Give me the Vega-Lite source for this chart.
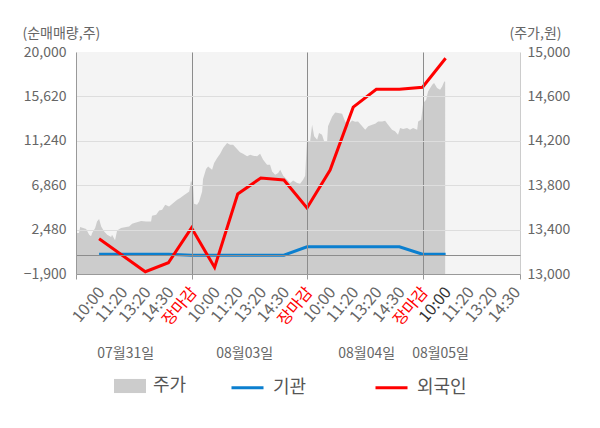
{
  "$schema": "https://vega.github.io/schema/vega-lite/v6.json",
  "width": 444,
  "height": 222,
  "autosize": {"type": "none"},
  "padding": {"left": 76, "top": 52, "right": 80, "bottom": 154},
  "background": "#ffffff",
  "config": {
    "font": "Noto Sans CJK KR",
    "view": {"fill": "#f4f4f4", "stroke": null},
    "axis": {"labelFont": "Noto Sans CJK KR", "titleFont": "Noto Sans CJK KR", "labelFontSize": 14, "titleColor": "#666666", "titleFontWeight": "normal", "titleFontSize": 14},
    "legend": {"labelFont": "Noto Sans CJK KR", "labelFontSize": 18, "labelColor": "#555555", "padding": 0}
  },
  "datasets": {
    "price": [
      {"t": -1.0, "price": 13369}, {"t": -0.87, "price": 13369}, {"t": -0.82, "price": 13423}, {"t": -0.69, "price": 13414},
      {"t": -0.56, "price": 13405}, {"t": -0.43, "price": 13354}, {"t": -0.35, "price": 13339}, {"t": -0.3, "price": 13369},
      {"t": -0.17, "price": 13414}, {"t": -0.09, "price": 13474}, {"t": 0.0, "price": 13496}, {"t": 0.09, "price": 13429},
      {"t": 0.22, "price": 13384}, {"t": 0.35, "price": 13354}, {"t": 0.52, "price": 13333}, {"t": 0.56, "price": 13354},
      {"t": 0.69, "price": 13303}, {"t": 0.78, "price": 13393}, {"t": 0.95, "price": 13414}, {"t": 1.17, "price": 13423},
      {"t": 1.3, "price": 13429}, {"t": 1.43, "price": 13453}, {"t": 1.6, "price": 13465}, {"t": 1.82, "price": 13478},
      {"t": 2.03, "price": 13474}, {"t": 2.25, "price": 13474}, {"t": 2.29, "price": 13525}, {"t": 2.47, "price": 13534},
      {"t": 2.6, "price": 13573}, {"t": 2.73, "price": 13579}, {"t": 2.86, "price": 13624}, {"t": 3.03, "price": 13609},
      {"t": 3.16, "price": 13631}, {"t": 3.38, "price": 13669}, {"t": 3.51, "price": 13685}, {"t": 3.64, "price": 13705},
      {"t": 3.81, "price": 13730}, {"t": 3.9, "price": 13744}, {"t": 3.98, "price": 13843},
      {"t": 4.07, "price": 13796}, {"t": 4.11, "price": 13633}, {"t": 4.24, "price": 13624}, {"t": 4.33, "price": 13654},
      {"t": 4.46, "price": 13744}, {"t": 4.5, "price": 13856}, {"t": 4.63, "price": 13946}, {"t": 4.72, "price": 13969},
      {"t": 4.89, "price": 13940}, {"t": 4.98, "price": 14000}, {"t": 5.11, "price": 14045}, {"t": 5.24, "price": 14084},
      {"t": 5.37, "price": 14135}, {"t": 5.54, "price": 14180}, {"t": 5.67, "price": 14165}, {"t": 5.8, "price": 14165},
      {"t": 5.97, "price": 14126}, {"t": 6.1, "price": 14096}, {"t": 6.23, "price": 14084}, {"t": 6.41, "price": 14060},
      {"t": 6.54, "price": 14075}, {"t": 6.67, "price": 14066}, {"t": 6.84, "price": 14060}, {"t": 6.97, "price": 14084},
      {"t": 7.1, "price": 14030}, {"t": 7.27, "price": 13985}, {"t": 7.4, "price": 13985}, {"t": 7.49, "price": 13924},
      {"t": 7.62, "price": 13895}, {"t": 7.75, "price": 13910}, {"t": 7.84, "price": 13940}, {"t": 7.97, "price": 13886},
      {"t": 8.14, "price": 13850}, {"t": 8.27, "price": 13820}, {"t": 8.4, "price": 13843}, {"t": 8.57, "price": 13820},
      {"t": 8.7, "price": 13814}, {"t": 8.83, "price": 13850}, {"t": 8.92, "price": 13886},
      {"t": 9.0, "price": 14210}, {"t": 9.13, "price": 14186}, {"t": 9.22, "price": 14345}, {"t": 9.31, "price": 14240},
      {"t": 9.44, "price": 14210}, {"t": 9.52, "price": 14270}, {"t": 9.65, "price": 14255}, {"t": 9.74, "price": 14195},
      {"t": 9.87, "price": 14195}, {"t": 9.91, "price": 14330}, {"t": 10.09, "price": 14420}, {"t": 10.22, "price": 14456},
      {"t": 10.35, "price": 14450}, {"t": 10.52, "price": 14444}, {"t": 10.65, "price": 14375}, {"t": 10.78, "price": 14345},
      {"t": 10.95, "price": 14384}, {"t": 11.08, "price": 14372}, {"t": 11.21, "price": 14375}, {"t": 11.39, "price": 14330},
      {"t": 11.52, "price": 14300}, {"t": 11.65, "price": 14330}, {"t": 11.82, "price": 14345}, {"t": 11.95, "price": 14354},
      {"t": 12.08, "price": 14375}, {"t": 12.25, "price": 14375}, {"t": 12.38, "price": 14381}, {"t": 12.51, "price": 14345},
      {"t": 12.68, "price": 14300}, {"t": 12.81, "price": 14285}, {"t": 12.94, "price": 14255}, {"t": 13.03, "price": 14315},
      {"t": 13.16, "price": 14306}, {"t": 13.33, "price": 14315}, {"t": 13.46, "price": 14300}, {"t": 13.59, "price": 14315},
      {"t": 13.77, "price": 14300}, {"t": 13.81, "price": 14375}, {"t": 13.94, "price": 14390},
      {"t": 14.03, "price": 14541}, {"t": 14.16, "price": 14570}, {"t": 14.24, "price": 14645}, {"t": 14.42, "price": 14706},
      {"t": 14.5, "price": 14721}, {"t": 14.63, "price": 14676}, {"t": 14.76, "price": 14660}, {"t": 14.85, "price": 14690},
      {"t": 14.94, "price": 14735}, {"t": 14.98, "price": 14732}
    ],
    "flow": [
      {"t": 0, "series": "기관", "value": 60}, {"t": 1, "series": "기관", "value": 60},
      {"t": 2, "series": "기관", "value": 60}, {"t": 3, "series": "기관", "value": 60},
      {"t": 4, "series": "기관", "value": -40}, {"t": 5, "series": "기관", "value": -40},
      {"t": 6, "series": "기관", "value": -40}, {"t": 7, "series": "기관", "value": -40},
      {"t": 8, "series": "기관", "value": -40}, {"t": 9, "series": "기관", "value": 780},
      {"t": 10, "series": "기관", "value": 780}, {"t": 11, "series": "기관", "value": 780},
      {"t": 12, "series": "기관", "value": 780}, {"t": 13, "series": "기관", "value": 780},
      {"t": 14, "series": "기관", "value": 60}, {"t": 15, "series": "기관", "value": 60},
      {"t": 0, "series": "외국인", "value": 1570}, {"t": 1, "series": "외국인", "value": -50},
      {"t": 2, "series": "외국인", "value": -1677}, {"t": 3, "series": "외국인", "value": -792},
      {"t": 4, "series": "외국인", "value": 2652}, {"t": 5, "series": "외국인", "value": -1250},
      {"t": 6, "series": "외국인", "value": 5998}, {"t": 7, "series": "외국인", "value": 7572},
      {"t": 8, "series": "외국인", "value": 7375}, {"t": 9, "series": "외국인", "value": 4620},
      {"t": 10, "series": "외국인", "value": 8360}, {"t": 11, "series": "외국인", "value": 14558},
      {"t": 12, "series": "외국인", "value": 16330}, {"t": 13, "series": "외국인", "value": 16330},
      {"t": 14, "series": "외국인", "value": 16527}, {"t": 15, "series": "외국인", "value": 19380}
    ]
  },
  "layer": [
    {
      "data": {"name": "price"},
      "mark": {"type": "area", "color": "#cccccc"},
      "encoding": {
        "x": {
          "field": "t", "type": "quantitative",
          "scale": {"domain": [-1, 18.22], "nice": false, "zero": false},
          "axis": {
            "orient": "bottom", "title": null, "zindex": 1,
            "values": [-1, 0, 1, 2, 3, 4, 5, 6, 7, 8, 9, 10, 11, 12, 13, 14, 15, 16, 17, 18, 18.22],
            "labelExpr": "(datum.value < 0 || datum.value > 18.1) ? '' : ['10:00','11:20','13:20','14:30','장마감'][datum.value % 5]",
            "labelAngle": -50, "labelAlign": "right", "labelBaseline": "middle", "labelFontSize": 16,
            "labelPadding": 10, "labelOffset": 2, "labelOverlap": false, "labelFlush": false, "labelBound": false,
            "labelColor": {"condition": [{"test": "datum.value % 5 == 4", "value": "#ff0000"}, {"test": "datum.value == 15", "value": "#333333"}], "value": "#666666"},
            "domainColor": "#999999", "tickColor": "#999999", "tickSize": 5,
            "tickOpacity": {"condition": {"test": "datum.value < 0 || datum.value > 18.1 || datum.value % 5 == 4", "value": 1}, "value": 0},
            "grid": true, "gridColor": "#8c8c8c",
            "gridOpacity": {"condition": {"test": "datum.value % 5 == 4", "value": 1}, "value": 0}
          }
        },
        "y": {
          "field": "price", "type": "quantitative",
          "scale": {"domain": [13000, 15000], "nice": false, "zero": false},
          "axis": {
            "orient": "right", "title": "(주가,원)", "titleAngle": 0, "titleAlign": "left", "titleBaseline": "middle",
            "titleX": -11, "titleY": -19,
            "values": [13000, 13400, 13800, 14200, 14600, 15000],
            "labelExpr": "format(datum.value, ',')", "labelColor": "#666666",
            "grid": false, "ticks": false, "labelPadding": 7, "domainColor": "#cccccc"
          }
        },
        "y2": {"datum": 13000},
        "fill": {
          "datum": "주가",
          "scale": {"domain": ["주가"], "range": ["#cccccc"]},
          "legend": {"orient": "none", "legendX": 38, "legendY": 318, "title": null, "symbolType": "M-1,-0.44H1V0.44H-1Z", "symbolSize": 1024, "labelOffset": 7, "symbolStrokeWidth": 0}
        }
      }
    },
    {
      "data": {"name": "flow"},
      "mark": {"type": "line", "strokeWidth": 3},
      "encoding": {
        "x": {
          "field": "t", "type": "quantitative",
          "axis": {
            "orient": "bottom", "title": null,
            "values": [1.13, 6.28, 11.56, 14.76],
            "labelExpr": "datum.value < 3 ? '07월31일' : (datum.value < 9 ? '08월03일' : (datum.value < 13 ? '08월04일' : '08월05일'))",
            "ticks": false, "domain": false, "grid": false, "labelColor": "#666666",
            "labelAngle": 0, "labelAlign": "center", "labelBaseline": "middle",
            "labelPadding": 79, "labelFlush": false, "labelOverlap": false, "labelBound": false
          }
        },
        "y": {
          "field": "value", "type": "quantitative",
          "scale": {"domain": [-1900, 20000], "nice": false, "zero": false},
          "axis": {
            "orient": "left", "title": "(순매매량,주)", "titleAngle": 0, "titleAlign": "left", "titleBaseline": "middle",
            "titleX": -54, "titleY": -19, "zindex": 1,
            "values": [-1900, 0, 2480, 6860, 11240, 15620, 20000],
            "labelExpr": "datum.value == 0 ? '' : format(datum.value, ',')", "labelColor": "#666666",
            "ticks": false, "labelPadding": 10, "domainColor": "#999999",
            "grid": true,
            "gridColor": {"condition": {"test": "datum.value == 0", "value": "#8c8c8c"}, "value": "#dddddd"},
            "gridOpacity": {"condition": {"test": "datum.value == 20000", "value": 0}, "value": 1}
          }
        },
        "stroke": {
          "field": "series", "type": "nominal",
          "scale": {"domain": ["기관", "외국인"], "range": ["#0b7fcf", "#ff0000"]},
          "legend": {"orient": "none", "legendX": 154, "legendY": 318, "direction": "horizontal", "title": null, "symbolType": "stroke", "symbolSize": 1024, "symbolStrokeWidth": 3, "columnPadding": 62, "labelOffset": 8}
        }
      }
    }
  ],
  "resolve": {"scale": {"y": "independent"}, "axis": {"x": "independent", "y": "independent"}}
}
